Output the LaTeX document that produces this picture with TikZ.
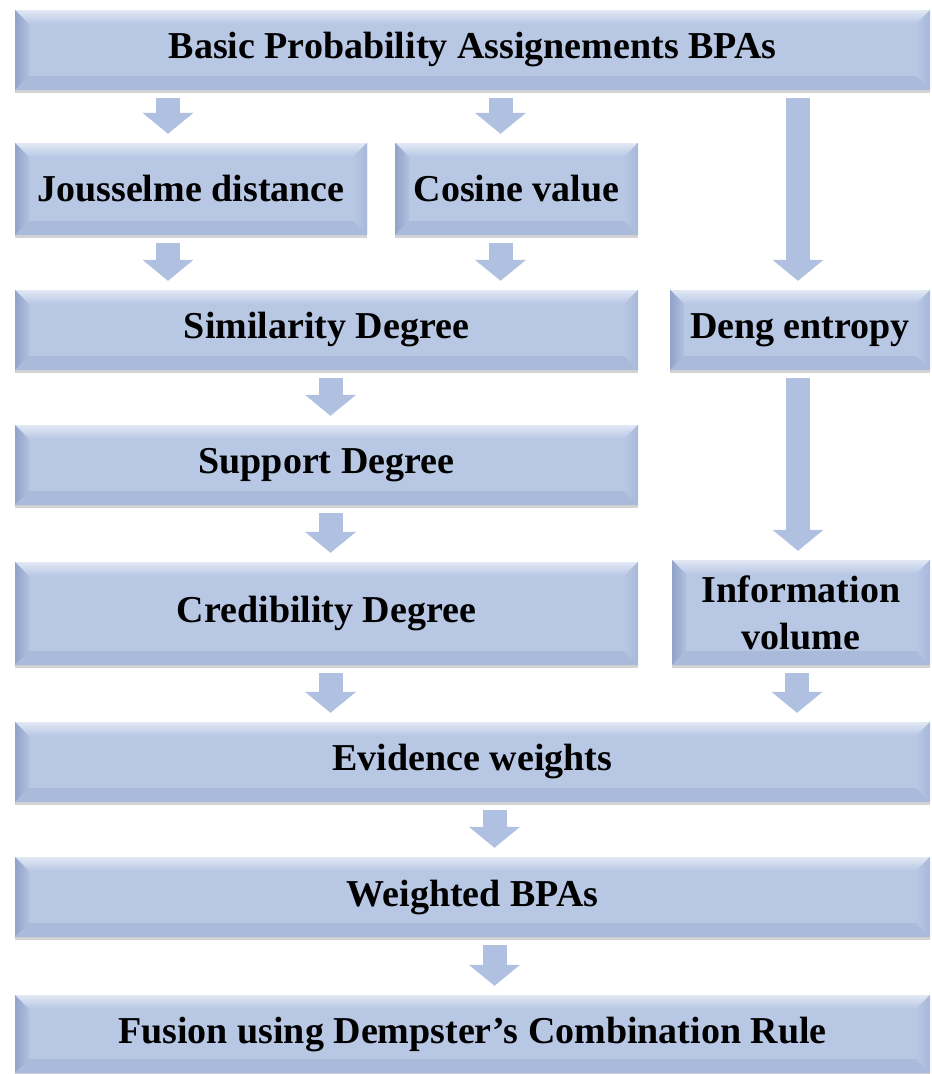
\documentclass[tikz,border=0pt]{standalone}
\usepackage{fontspec}
\setmainfont{Liberation Serif}
\usetikzlibrary{calc,arrows.meta,shadows}
\definecolor{BevFace}{RGB}{184,199,228}
\definecolor{BevTop}{RGB}{226,232,244}
\definecolor{BevLeft}{RGB}{146,163,202}
\definecolor{BevRight}{RGB}{168,184,219}
\definecolor{BevBottom}{RGB}{170,186,219}
\definecolor{ArrowBlue}{RGB}{176,192,225}
\newcommand{\bevw}{14pt}
\tikzset{
  bevelbox/.style 2 args={rectangle,inner sep=0pt,align=center,fill=BevFace,
    minimum width=#1pt,minimum height=#2pt,
    font=\fontsize{38}{47}\selectfont\bfseries,
    drop shadow={shadow xshift=0pt,shadow yshift=-2.5pt,opacity=.35},
    path picture={
      \path (path picture bounding box.north west) coordinate (bnw)
            (path picture bounding box.north east) coordinate (bne)
            (path picture bounding box.south east) coordinate (bse)
            (path picture bounding box.south west) coordinate (bsw);
      \path ([xshift=\bevw,yshift=-\bevw]bnw) coordinate (inw)
            ([xshift=-\bevw,yshift=-\bevw]bne) coordinate (ine)
            ([xshift=-\bevw,yshift=\bevw]bse) coordinate (ise)
            ([xshift=\bevw,yshift=\bevw]bsw) coordinate (isw);
      \fill[top color=BevTop,bottom color=BevFace] (bnw) -- (bne) -- (ine) -- (inw) -- cycle;
      \fill[left color=BevLeft,right color=BevFace!80!BevLeft] (bnw) -- (inw) -- (isw) -- (bsw) -- cycle;
      \fill[left color=BevFace,right color=BevRight] (bne) -- (ine) -- (ise) -- (bse) -- cycle;
      \fill[BevBottom] (bsw) -- (isw) -- (ise) -- (bse) -- cycle;
    }},
  flowarrow/.style={draw=ArrowBlue,line width=24pt,-{Triangle[length=21pt,width=50pt]},
    shorten <=8pt,shorten >=9pt}
}
\begin{document}
\begin{tikzpicture}[x=1pt,y=-1pt]
\useasboundingbox (0,0) rectangle (932,1074);
\node[bevelbox={915}{80}] (bpa) at (472.5,50) {Basic Probability Assignements BPAs};
\node[bevelbox={352}{92}] (jous) at (191,189) {Jousselme distance};
\node[bevelbox={243}{92}] (cos) at (516.5,189) {Cosine value};
\node[bevelbox={623}{80}] (sim) at (326.5,330) {Similarity Degree};
\node[bevelbox={260}{80}] (deng) at (800,330) {Deng entropy};
\node[bevelbox={623}{80}] (sup) at (326.5,465) {Support Degree};
\node[bevelbox={623}{103}] (cred) at (326.5,613.5) {Credibility Degree};
\node[bevelbox={258}{105}] (info) at (801,612.5) {Information\\volume};
\node[bevelbox={915}{80}] (evid) at (472.5,762) {Evidence weights};
\node[bevelbox={915}{80}] (wbpa) at (472.5,897) {Weighted BPAs};
\node[bevelbox={915}{78}] (fus) at (472.5,1034) {Fusion using Dempster's Combination Rule};
\draw[flowarrow] ([xshift=-23pt]bpa.south -| jous.south) -- ([xshift=-23pt]jous.north);
\draw[flowarrow] ([xshift=-16pt]bpa.south -| cos.south) -- ([xshift=-16pt]cos.north);
\draw[flowarrow] ([xshift=-2pt]bpa.south -| deng.south) -- ([xshift=-2pt]deng.north);
\draw[flowarrow] ([xshift=-23pt]jous.south) -- ([xshift=-23pt]jous.south |- sim.north);
\draw[flowarrow] ([xshift=-16pt]cos.south) -- ([xshift=-16pt]cos.south |- sim.north);
\draw[flowarrow] ([xshift=4pt]sim.south) -- ([xshift=4pt]sup.north);
\draw[flowarrow] ([xshift=4pt]sup.south) -- ([xshift=4pt]cred.north);
\draw[flowarrow] ([xshift=-2pt]deng.south) -- ([xshift=-2pt]deng.south |- info.north);
\draw[flowarrow] ([xshift=4pt]cred.south) -- ([xshift=4pt]cred.south |- evid.north);
\draw[flowarrow] ([xshift=-4pt]info.south) -- ([xshift=-4pt]info.south |- evid.north);
\draw[flowarrow] ([xshift=22pt]evid.south) -- ([xshift=22pt]wbpa.north);
\draw[flowarrow] ([xshift=22pt]wbpa.south) -- ([xshift=22pt]fus.north);
\end{tikzpicture}
\end{document}
